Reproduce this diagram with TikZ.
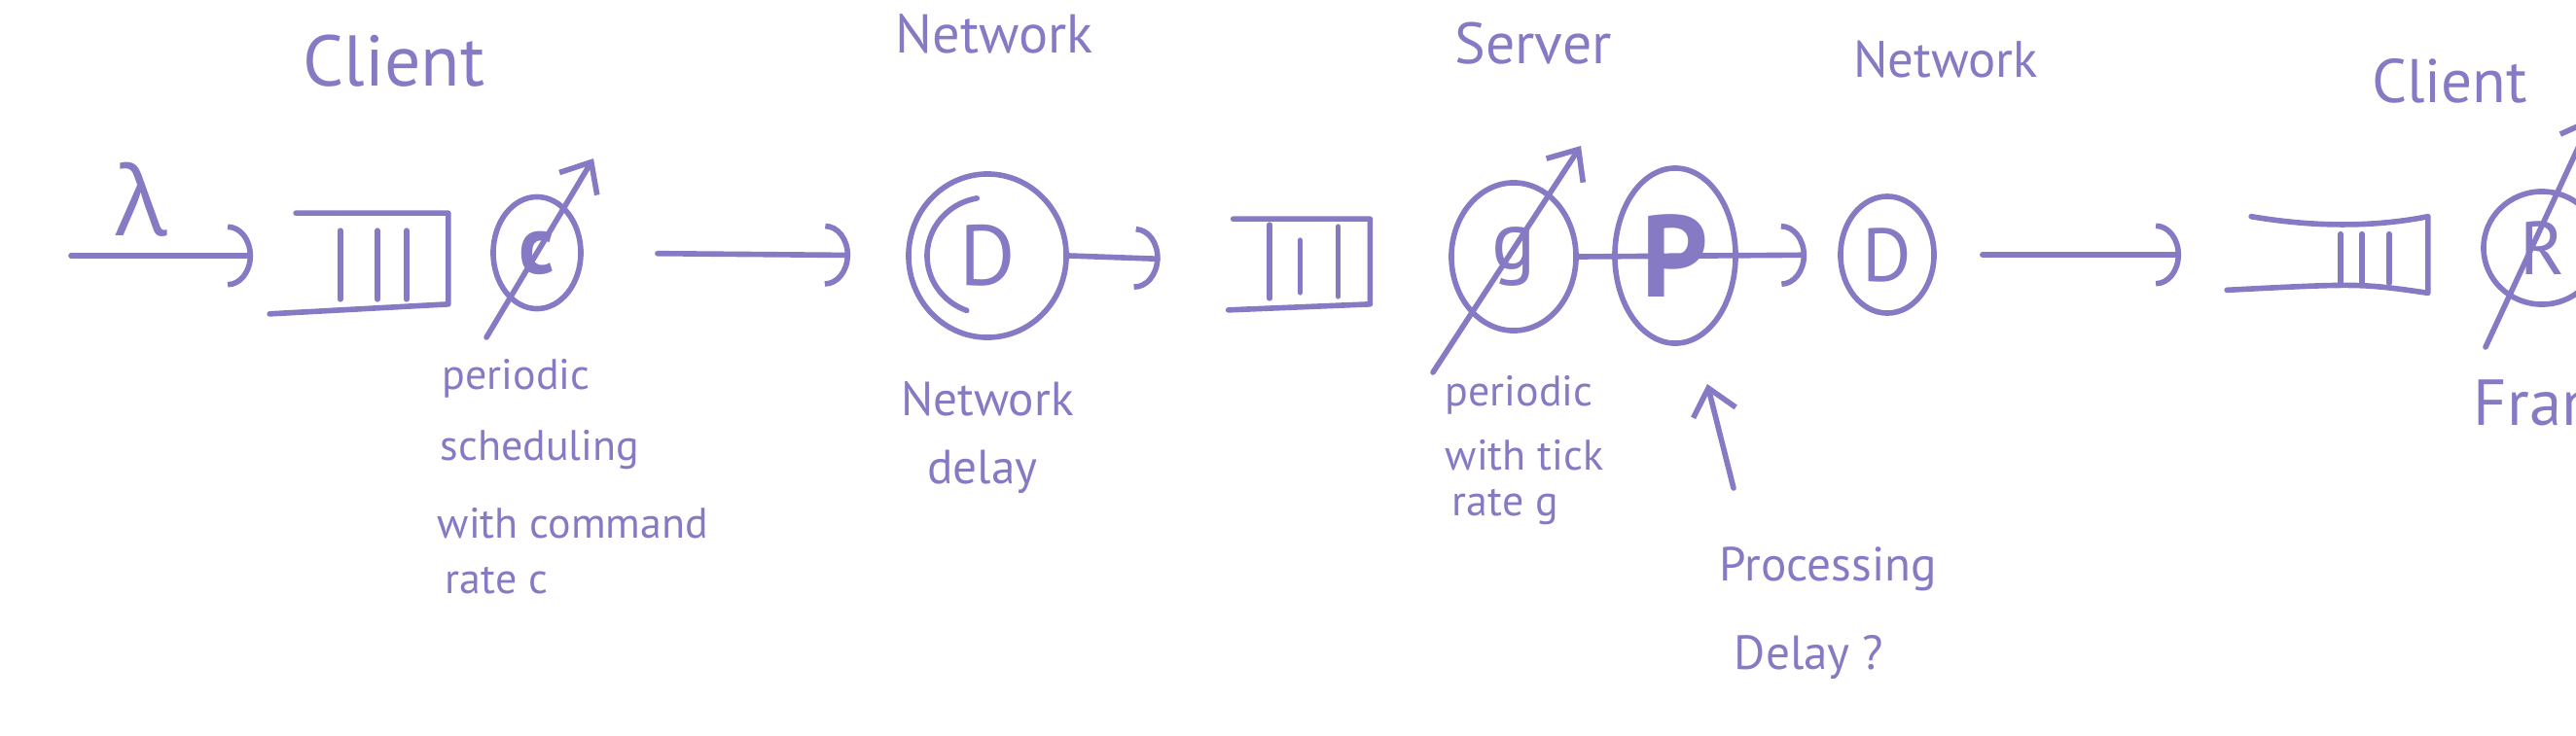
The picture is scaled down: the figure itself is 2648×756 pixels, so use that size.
\documentclass[tikz,border=0pt]{standalone}
\usepackage{fontspec}
\setmainfont{PT Sans}
\newfontfamily\lamfont{Open Sans}
\usetikzlibrary{arrows.meta,shapes.geometric,calc}
\definecolor{pen}{RGB}{135,122,196}
\tikzset{
  srv/.style={ellipse, draw, inner sep=0pt},
  flow/.style={-{Arc Barb[width=6.5mm,length=2.6mm]}},
  sched/.style={-{Straight Barb[width=4.5mm,length=2.6mm]}},
  ttl/.style={inner sep=0pt},
  lbl/.style={anchor=base west, inner sep=0pt, font=\fontsize{12.5}{15}\selectfont},
  qbox/.style={inner sep=0pt}
}
\begin{document}
\begin{tikzpicture}[x=0.01cm, y=0.01cm, line width=1.6pt, color=pen, line cap=round, line join=round]
\useasboundingbox (0,0) rectangle (2648,756);
\clip (0,0) rectangle (2648,756);
% titles
\node[ttl, font=\fontsize{21}{24}\selectfont] (t1) at (405,693) {Client};
\node[ttl, font=\fontsize{16}{19}\selectfont] (t2) at (1022,721) {Network};
\node[ttl, font=\fontsize{17}{20}\selectfont] (t3) at (1576,711) {Server};
\node[ttl, font=\fontsize{15}{18}\selectfont] (t4) at (2000,695) {Network};
\node[ttl, font=\fontsize{18}{21}\selectfont] (t5) at (2518,673) {Client};
% arrival
\coordinate (in1) at (73,493);
\node[font=\lamfont\fontsize{28}{30}\selectfont] (lam) at (146,551) {λ};
% client queue
\node[qbox, minimum width=1.58cm, minimum height=0.88cm] (q1) at (379,490) {};
\draw ([xshift=0.07cm]q1.north west) -- (q1.north east) -- (q1.south east) -- ([xshift=-0.2cm, yshift=-0.1cm]q1.south west);
\foreach \d in {1.11,0.73,0.43}
  \draw ([xshift=-\d cm, yshift=-0.18cm]q1.north east) -- ([xshift=-\d cm, yshift=0.05cm]q1.south east);
\draw[flow, shorten >=0.37cm] (in1) -- (in1 -| q1.west);
% client scheduler
\node[srv, minimum width=0.9cm, minimum height=1.15cm, font=\bfseries\fontsize{24}{26}\selectfont] (c) at (552,496) {c};
\draw[sched] ($(c.center)+(-52,-87)$) -- ($(c.center)+(58,97)$);
\node[lbl] (cl1) at (452,356) {periodic};
\node[lbl] (cl2) at (450,283) {scheduling};
\node[lbl] (cl3) at (447,203) {with command};
\node[lbl] (cl4) at (455,146) {rate c};
% network 1
\node[srv, minimum width=1.62cm, minimum height=1.68cm, font=\fontsize{25}{27}\selectfont] (n1) at (1015,493) {D};
\draw ($(n1.center)+(100:62 and 60)$) arc[start angle=100, end angle=250, x radius=62, y radius=60];
\node[anchor=base, inner sep=0pt, font=\fontsize{14}{16}\selectfont] (nl1) at (1015,329) {Network};
\node[anchor=base, inner sep=0pt, font=\fontsize{14}{16}\selectfont] (nl2) at (1010,259) {delay};
\draw[flow, shorten <=0.76cm, shorten >=0.57cm] (c.east) -- (n1.west);
% server queue
\node[qbox, minimum width=1.35cm, minimum height=0.82cm] (q2) at (1338,487) {};
\draw (q2.north west) -- (q2.north east) -- (q2.south east) -- ([xshift=-0.05cm, yshift=-0.06cm]q2.south west);
\draw ([xshift=-1.03cm, yshift=-0.06cm]q2.north east) -- ([xshift=-1.03cm, yshift=0.06cm]q2.south east);
\draw ([xshift=-0.72cm, yshift=-0.22cm]q2.north east) -- ([xshift=-0.72cm, yshift=0.12cm]q2.south east);
\draw ([xshift=-0.33cm, yshift=-0.08cm]q2.north east) -- ([xshift=-0.33cm, yshift=0.08cm]q2.south east);
\draw[flow, shorten >=0.75cm] (n1.east) -- (q2.west);
% server tick + processing
\node[srv, minimum width=1.28cm, minimum height=1.52cm, font=\fontsize{24}{26}\selectfont] (g) at (1556,492) {g};
\draw[sched] ($(g.center)+(-83,-119)$) -- ($(g.center)+(69,114)$);
\node[srv, minimum width=1.24cm, minimum height=1.8cm, font=\bfseries\fontsize{34}{36}\selectfont] (P) at (1722,493) {P};
\node[lbl] (gl1) at (1483,339) {periodic};
\node[lbl] (gl2) at (1483,273) {with tick};
\node[lbl] (gl3) at (1490,226) {rate g};
\node[lbl, font=\fontsize{14}{16}\selectfont] (pl1) at (1765,159) {Processing};
\node[lbl, font=\fontsize{14}{16}\selectfont] (pl2) at (1780,68) {Delay ?};
\coordinate (up) at (1782,254);
\coordinate (uptip) at (1755,361);
\draw[sched] (up) -- (uptip);
% network 2
\node[srv, minimum width=0.96cm, minimum height=1.2cm, font=\fontsize{22}{24}\selectfont] (n2) at (1940,494) {D};
\draw[flow, shorten >=0.32cm] (g.east) -- (n2.west);
% client receive queue
\node[qbox, minimum width=1.96cm, minimum height=0.73cm] (q3) at (2395,494) {};
\draw ([xshift=0.2cm]q3.north west) .. controls ([xshift=0.9cm, yshift=-0.12cm]q3.north west) and ([xshift=-0.5cm, yshift=-0.1cm]q3.north east) .. (q3.north east) -- (q3.south east) .. controls ([xshift=-0.7cm, yshift=0.1cm]q3.south east) .. ([xshift=-0.05cm, yshift=0.03cm]q3.south west);
\foreach \d in {0.9,0.68,0.4}
  \draw ([xshift=-\d cm, yshift=-0.18cm]q3.north east) -- ([xshift=-\d cm, yshift=0.1cm]q3.south east);
\draw[flow, shorten <=0.47cm, shorten >=0.52cm] (n2.east) -- (q3.west);
% renderer
\node[srv, minimum width=1.2cm, minimum height=1.16cm, font=\fontsize{22}{24}\selectfont] (R) at (2613,501) {R};
\draw[sched] ($(R.center)+(-58,-102)$) -- ($(R.center)+(52,135)$);
\node[lbl, font=\fontsize{19}{22}\selectfont] (fl) at (2540,319) {Frame};
\end{tikzpicture}
\end{document}
